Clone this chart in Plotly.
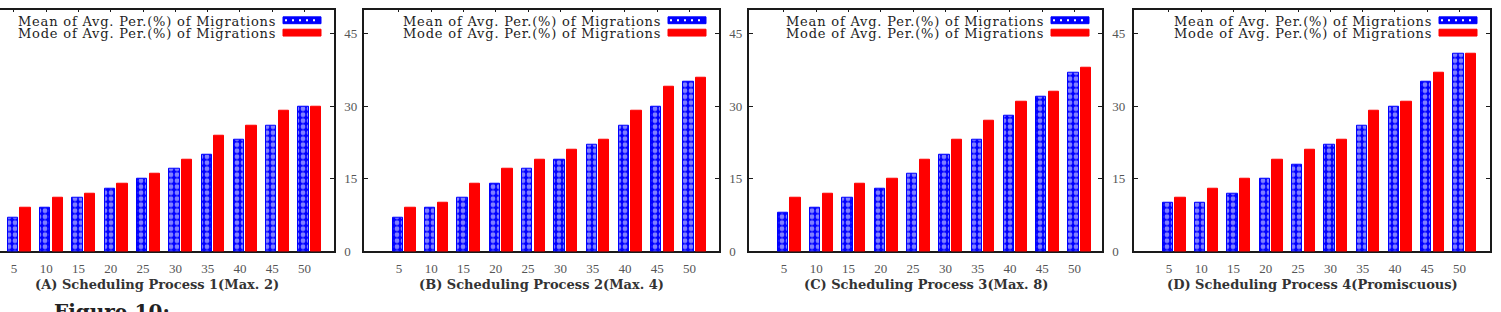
import plotly.graph_objects as go

W, H = 1501, 312

categories = ["5", "10", "15", "20", "25", "30", "35", "40", "45", "50"]

mean_A = [7, 9, 11, 13, 15, 17, 20, 23, 26, 30]
mode_A = [9, 11, 12, 14, 16, 19, 24, 26, 29, 30]
mean_B = [7, 9, 11, 14, 17, 19, 22, 26, 30, 35]
mode_B = [9, 10, 14, 17, 19, 21, 23, 29, 34, 36]
mean_C = [8, 9, 11, 13, 16, 20, 23, 28, 32, 37]
mode_C = [11, 12, 14, 15, 19, 23, 27, 31, 33, 38]
mean_D = [10, 10, 12, 15, 18, 22, 26, 30, 35, 41]
mode_D = [11, 13, 15, 19, 21, 23, 29, 31, 37, 41]

panel_titles = [
    "(A) Scheduling Process 1(Max. 2)",
    "(B) Scheduling Process 2(Max. 4)",
    "(C) Scheduling Process 3(Max. 8)",
    "(D) Scheduling Process 4(Promiscuous)",
]
series_names = ["Mean of Avg. Per.(%) of Migrations", "Mode of Avg. Per.(%) of Migrations"]
y_ticks = [0, 15, 30, 45]

means = [mean_A, mean_B, mean_C, mean_D]
modes = [mode_A, mode_B, mode_C, mode_D]

# panel plot-area edges in pixels (panel A starts off-screen)
panels = [(-21, 334), (364, 719), (749, 1102), (1134, 1490)]
PX_PER_UNIT = 32.3
X_LO_FULL = -1.08
Y_TOP, Y_BOT = 10, 258

def px(x):
    return x / W

def py(y):
    return 1 - y / H

SERIF = "DejaVu Serif"
TICKFONT = dict(family="Liberation Serif", size=13, color="#555555")
LINEC = "#1a1a1a"

fig = go.Figure()
layout = dict(
    width=W, height=H, margin=dict(l=0, r=0, t=0, b=0),
    paper_bgcolor="white", plot_bgcolor="white", showlegend=False,
    bargap=0,
)
annotations = []
shapes = []

for i, (L, R) in enumerate(panels):
    n = "" if i == 0 else str(i + 1)
    xa, ya = "x" + n, "y" + n
    Ld = max(L, 0)
    lo = X_LO_FULL + (Ld - L) / PX_PER_UNIT
    hi = X_LO_FULL + (R - L) / PX_PER_UNIT

    fig.add_trace(go.Bar(
        x=categories, y=means[i], name=series_names[0], xaxis=xa, yaxis=ya,
        offset=-0.19, width=0.32,
        marker=dict(color="#0000ff", line=dict(color="#0000ff", width=1),
                    pattern=dict(shape=".", fgcolor="white", bgcolor="#0000ff",
                                 size=6, solidity=0.5)),
    ))
    fig.add_trace(go.Bar(
        x=categories, y=modes[i], name=series_names[1], xaxis=xa, yaxis=ya,
        offset=0.2, width=0.32,
        marker=dict(color="#ff0000", line=dict(color="#ff0000", width=1)),
    ))

    layout["xaxis" + n] = dict(
        domain=[px(Ld), px(R)], range=[lo, hi], type="category", anchor=ya,
        showline=True, linecolor=LINEC, linewidth=1.5, mirror="ticks",
        ticks="inside", ticklen=3, tickcolor=LINEC, tickwidth=1,
        tickfont=TICKFONT, showgrid=False, zeroline=False, layer="below traces",
        ticklabelstandoff=4, fixedrange=True,
    )
    layout["yaxis" + n] = dict(
        domain=[py(Y_BOT), py(Y_TOP)], range=[0, 50], anchor=xa, side="right",
        tickvals=y_ticks, showline=True, linecolor=LINEC, linewidth=1.5,
        mirror=("ticks" if i > 0 else False),
        ticks="inside", ticklen=4, tickcolor=LINEC, tickwidth=1,
        tickfont=TICKFONT, showgrid=False, zeroline=False, layer="below traces",
        ticklabelstandoff=6, fixedrange=True,
        showticklabels=(i < 3),
    )

    # panel caption
    annotations.append(dict(
        x=px((L + R) / 2), y=py(292), xref="paper", yref="paper",
        text="<b>" + panel_titles[i] + "</b>", showarrow=False,
        xanchor="center", yanchor="middle",
        font=dict(family=SERIF, size=13, color="#333333"),
    ))

    # legend (text on the left, sample on the right)
    rows = [(20.8, "#0000ff"), (33.5, "#ff0000")]
    for k, (yc, col) in enumerate(rows):
        annotations.append(dict(
            x=px(R - 56), y=py(yc + 0.8), xref="paper", yref="paper",
            text='<span style="letter-spacing:0.8px">' + series_names[k] + "</span>",
            showarrow=False, xanchor="right", yanchor="middle",
            font=dict(family=SERIF, size=13, color="#222222"),
        ))
        shapes.append(dict(
            type="rect", xref="paper", yref="paper",
            x0=px(R - 51), x1=px(R - 13), y0=py(yc - 3.5), y1=py(yc + 3.5),
            fillcolor=col, line=dict(color=col, width=1),
        ))
        if k == 0:
            shapes.append(dict(
                type="line", xref="paper", yref="paper",
                x0=px(R - 49), x1=px(R - 15), y0=py(yc), y1=py(yc),
                line=dict(color="white", width=2, dash="2px,5px"),
            ))

# partially visible figure caption at the bottom edge
annotations.append(dict(
    x=px(52), y=py(306), xref="paper", yref="paper", text="<b>Figure 10:</b>",
    showarrow=False, xanchor="left", yanchor="top",
    font=dict(family=SERIF, size=20, color="#222222"),
))

layout["annotations"] = annotations
layout["shapes"] = shapes
fig.update_layout(**layout)
fig.write_html("out.html")
